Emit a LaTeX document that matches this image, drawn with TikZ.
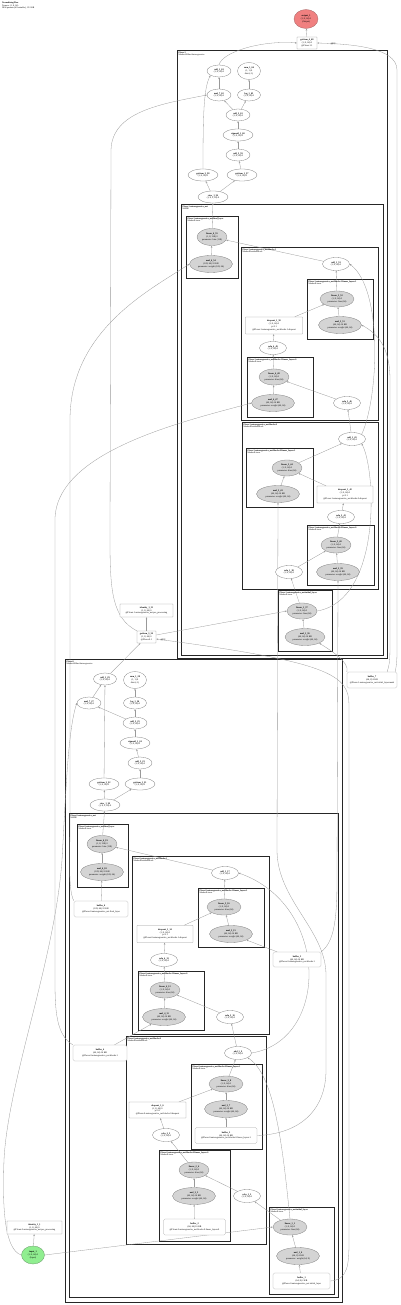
\documentclass[tikz,border=0pt]{standalone}
\usepackage{fontspec}
\setmainfont{Liberation Serif}
\usepackage{tikz}
\usetikzlibrary{arrows.meta,positioning,shapes.geometric,backgrounds}
\definecolor{outred}{RGB}{240,128,128}
\definecolor{ingreen}{RGB}{144,238,144}

\begin{document}
\begin{tikzpicture}[x=1pt,y=-1pt,>={Stealth[length=2pt,width=1.6pt]},
    lbl/.style={font=\fontsize{2.3}{2.8}\selectfont,align=center,inner sep=0.3pt},
    fn/.style={lbl,ellipse,draw=black!50,line width=0.3pt,fill=white,minimum height=12},
    parm/.style={fn,fill=black!17},
    mod/.style={lbl,rectangle,rounded corners=0.3pt,draw=black!40,line width=0.3pt,fill=white},
    buf/.style={mod,rounded corners=1.5pt,draw=black!35},
    grp/.style={draw=black!85,line width=0.7pt},
    glab/.style={font=\fontsize{2.2}{2.6}\selectfont,align=left,anchor=north west,inner sep=0.4pt},
    conn/.style={->,draw=black!40,line width=0.3pt}]
    \useasboundingbox (0,0) rectangle (400,1305);
    \node[glab] (title) at (1.5,1.5) {\textbf{NormalizingFlow}\\Tensors: (1, 8, 64)\\3804 params (all trainable), 15.2 KB};

    % upper flow
    \node[fn,minimum width=24,minimum height=19,fill=outred,draw=red!40!black!60] (outTensor) at (306,19) {\textbf{output\_1}\\(1, 8, 64) 0\\(Output)};
    \node[mod,minimum width=20,minimum height=12] (uOut) at (307,43) {\textbf{getitem\_4\_48}\\(1, 8, 64) 0\\@Flows.1.1};
    \node[lbl] (uOutTag) at (333,44) {@[0]};
    \node[glab] (labA) at (178,51) {\textbf{Flows.1}\\MaskedAffineAutoregressive};
    \node[fn,minimum width=24] (uAdd1) at (219,71) {\textbf{add\_1\_63}\\(1, 8, 64) 0};
    \node[fn,minimum width=23,minimum height=17] (uSum1) at (249,71) {\textbf{sum\_1\_66}\\(1, 1) 0\\dim=(-1)};
    \node[fn,minimum width=24] (uMul7) at (219,95) {\textbf{mul\_7\_62}\\(1, 8, 64) 0};
    \node[fn,minimum width=23] (uLog1) at (249,95) {\textbf{log\_1\_65}\\(1, 8, 64) 0};
    \node[fn,minimum width=24] (uAdd2) at (238,115) {\textbf{add\_2\_61}\\(1, 8, 64) 0};
    \node[fn,minimum width=30] (uSig) at (238,135) {\textbf{sigmoid\_1\_60}\\(1, 8, 64) 0};
    \node[fn,minimum width=24] (uAdd3) at (238,155) {\textbf{add\_3\_59}\\(1, 8, 64) 0};
    \node[fn,minimum width=30] (uGet2) at (203,175) {\textbf{getitem\_2\_58}\\(1, 8, 64) 0};
    \node[fn,minimum width=30] (uGet1) at (242,175) {\textbf{getitem\_1\_57}\\(1, 8, 64) 0};
    \node[fn,minimum width=30] (uView) at (213,197) {\textbf{view\_1\_56}\\(1, 8, 2, 64) 0};
    \node[glab] (labB) at (182,205) {\textbf{Flows.1.autoregressive\_net}\\MADE};
    \node[glab] (labC) at (187,217) {\textbf{Flows.1.autoregressive\_net.final\_layer}\\MaskedLinear};
    \node[parm,minimum width=30,minimum height=17] (uFinLin) at (212,237) {\textbf{linear\_6\_55}\\(1, 8, 128) 0\\parameter: bias (128)};
    \node[parm,minimum width=43,minimum height=17] (uFinMul) at (211,264) {\textbf{mul\_6\_54}\\(128, 64) 32 KB\\parameter: weight (128, 64)};
    \node[glab] (labD) at (242,248) {\textbf{Flows.1.autoregressive\_net.blocks.1}\\MaskedResidualBlock};
    \node[fn,minimum width=27,minimum height=13] (uB1Add) at (336,264) {\textbf{add\_1\_53}\\(1, 8, 64) 0};
    \node[glab] (labE) at (308,280) {\textbf{Flows.1.autoregressive\_net.blocks.1.linear\_layers.1}\\MaskedLinear};
    \node[parm,minimum width=34,minimum height=16] (uB1Lin1) at (337,299) {\textbf{linear\_5\_52}\\(1, 8, 64) 0\\parameter: bias (64)};
    \node[parm,minimum width=43,minimum height=17] (uB1Mul1) at (340,325) {\textbf{mul\_5\_51}\\(64, 64) 16 KB\\parameter: weight (64, 64)};
    \node[mod,minimum width=57,minimum height=17] (uB1Drop) at (274,325.5) {\textbf{dropout\_1\_50}\\(1, 8, 64) 0\\p=0.1\\@Flows.1.autoregressive\_net.blocks.1.dropout};
    \node[fn,minimum width=27,minimum height=13] (uB1Relu) at (273,348) {\textbf{relu\_4\_49}\\(1, 8, 64) 0};
    \node[glab] (labF) at (248,358) {\textbf{Flows.1.autoregressive\_net.blocks.1.linear\_layers.0}\\MaskedLinear};
    \node[parm,minimum width=30,minimum height=16] (uB1Lin0) at (274,377) {\textbf{linear\_4\_48}\\(1, 8, 64) 0\\parameter: bias (64)};
    \node[parm,minimum width=43,minimum height=17] (uB1Mul0) at (273,403) {\textbf{mul\_4\_47}\\(64, 64) 16 KB\\parameter: weight (64, 64)};
    \node[fn,minimum width=27,minimum height=13] (uB1Relu0) at (347,403) {\textbf{relu\_3\_46}\\(1, 8, 64) 0};
    \node[glab] (labG) at (243,423) {\textbf{Flows.1.autoregressive\_net.blocks.0}\\MaskedResidualBlock};
    \node[fn,minimum width=27,minimum height=13] (uB0Add) at (352,439) {\textbf{add\_1\_45}\\(1, 8, 64) 0};
    \node[glab] (labH) at (247,449) {\textbf{Flows.1.autoregressive\_net.blocks.0.linear\_layers.1}\\MaskedLinear};
    \node[parm,minimum width=30,minimum height=16] (uB0Lin1) at (287,468) {\textbf{linear\_3\_44}\\(1, 8, 64) 0\\parameter: bias (64)};
    \node[parm,minimum width=43,minimum height=17] (uB0Mul1) at (278,494) {\textbf{mul\_3\_43}\\(64, 64) 16 KB\\parameter: weight (64, 64)};
    \node[mod,minimum width=56,minimum height=17] (uB0Drop) at (345,494.5) {\textbf{dropout\_1\_42}\\(1, 8, 64) 0\\p=0.1\\@Flows.1.autoregressive\_net.blocks.0.dropout};
    \node[fn,minimum width=27,minimum height=13] (uB0Relu) at (341,517) {\textbf{relu\_2\_41}\\(1, 8, 64) 0};
    \node[glab] (labI) at (308,526) {\textbf{Flows.1.autoregressive\_net.blocks.0.linear\_layers.0}\\MaskedLinear};
    \node[parm,minimum width=30,minimum height=16] (uB0Lin0) at (336,545) {\textbf{linear\_2\_40}\\(1, 8, 64) 0\\parameter: bias (64)};
    \node[parm,minimum width=43,minimum height=17] (uB0Mul0) at (338,572) {\textbf{mul\_2\_39}\\(64, 64) 16 KB\\parameter: weight (64, 64)};
    \node[fn,minimum width=27,minimum height=13] (uB0Relu0) at (289,572) {\textbf{relu\_1\_38}\\(1, 8, 64) 0};
    \node[glab] (labJ) at (279,591) {\textbf{Flows.1.autoregressive\_net.initial\_layer}\\MaskedLinear};
    \node[parm,minimum width=30,minimum height=16] (uInLin) at (302,611) {\textbf{linear\_1\_37}\\(1, 8, 64) 0\\parameter: bias (64)};
    \node[parm,minimum width=40,minimum height=17] (uInMul) at (305,637) {\textbf{mul\_1\_36}\\(64, 64) 16 KB\\parameter: weight (64, 64)};

    % between the flows
    \node[mod,minimum width=53,minimum height=13] (idMid) at (146.5,610.5) {\textbf{identity\_1\_31}\\(1, 8, 64) 0\\@Flows.1.autoregressive\_net.pre\_processing};
    \node[mod,minimum width=19,minimum height=12] (lGetOut) at (146.5,637) {\textbf{getitem\_3\_30}\\(1, 8, 64) 0\\@Flows.0.1};
    \node[lbl] (lGetTag) at (163,639.5) {@[0]};
    \node[buf,minimum width=50,minimum height=16] (buf7) at (372,680) {\textbf{buffer\_7}\\(64, 8) 2 KB\\@Flows.1.autoregressive\_net.initial\_layer.mask};

    % lower flow
    \node[glab] (labK) at (66,660) {\textbf{Flows.0}\\MaskedAffineAutoregressive};
    \node[fn,minimum width=23] (lAdd1) at (105,679) {\textbf{add\_1\_29}\\(1, 8, 64) 0};
    \node[fn,minimum width=23,minimum height=17] (lSum1) at (135,680) {\textbf{sum\_1\_28}\\(1, 1) 0\\dim=(-1)};
    \node[fn,minimum width=24] (lMul7) at (89,703) {\textbf{mul\_7\_27}\\(1, 8, 64) 0};
    \node[fn,minimum width=23] (lLog1) at (135,703) {\textbf{log\_1\_26}\\(1, 8, 64) 0};
    \node[fn,minimum width=24] (lAdd2) at (135,723) {\textbf{add\_2\_25}\\(1, 8, 64) 0};
    \node[fn,minimum width=30] (lSig) at (135,743) {\textbf{sigmoid\_1\_24}\\(1, 8, 64) 0};
    \node[fn,minimum width=24] (lAdd3) at (140,763) {\textbf{add\_3\_23}\\(1, 8, 64) 0};
    \node[fn,minimum width=30] (lGet2) at (104,784) {\textbf{getitem\_2\_22}\\(1, 8, 64) 0};
    \node[fn,minimum width=30] (lGet1) at (140,784) {\textbf{getitem\_1\_21}\\(1, 8, 64) 0};
    \node[fn,minimum width=30] (lView) at (105,805) {\textbf{view\_1\_20}\\(1, 8, 2, 64) 0};
    \node[glab] (labL) at (70,814) {\textbf{Flows.0.autoregressive\_net}\\MADE};
    \node[glab] (labM) at (78,825) {\textbf{Flows.0.autoregressive\_net.final\_layer}\\MaskedLinear};
    \node[parm,minimum width=30,minimum height=17] (lFinLin) at (102,844) {\textbf{linear\_6\_19}\\(1, 8, 128) 0\\parameter: bias (128)};
    \node[parm,minimum width=43,minimum height=17] (lFinMul) at (102,872) {\textbf{mul\_6\_18}\\(128, 64) 32 KB\\parameter: weight (128, 64)};
    \node[buf,minimum width=54,minimum height=16] (buf6) at (101,909) {\textbf{buffer\_6}\\(128, 64) 32 KB\\@Flows.0.autoregressive\_net.final\_layer};
    \node[glab] (labN) at (133,857) {\textbf{Flows.0.autoregressive\_net.blocks.1}\\MaskedResidualBlock};
    \node[fn,minimum width=27,minimum height=13] (lB1Add) at (225,873) {\textbf{add\_1\_17}\\(1, 8, 64) 0};
    \node[glab] (labO) at (199,889) {\textbf{Flows.0.autoregressive\_net.blocks.1.linear\_layers.1}\\MaskedLinear};
    \node[parm,minimum width=34,minimum height=16] (lB1Lin1) at (224,907) {\textbf{linear\_5\_16}\\(1, 8, 64) 0\\parameter: bias (64)};
    \node[parm,minimum width=43,minimum height=17] (lB1Mul1) at (231,934) {\textbf{mul\_5\_15}\\(64, 64) 16 KB\\parameter: weight (64, 64)};
    \node[mod,minimum width=56,minimum height=17] (lB1Drop) at (165,934) {\textbf{dropout\_1\_14}\\(1, 8, 64) 0\\p=0.1\\@Flows.0.autoregressive\_net.blocks.1.dropout};
    \node[fn,minimum width=27,minimum height=13] (lB1Relu) at (164,960) {\textbf{relu\_4\_13}\\(1, 8, 64) 0};
    \node[glab] (labP) at (139,972) {\textbf{Flows.0.autoregressive\_net.blocks.1.linear\_layers.0}\\MaskedLinear};
    \node[parm,minimum width=30,minimum height=16] (lB1Lin0) at (165,990) {\textbf{linear\_4\_12}\\(1, 8, 64) 0\\parameter: bias (64)};
    \node[parm,minimum width=43,minimum height=17] (lB1Mul0) at (164,1017) {\textbf{mul\_4\_11}\\(64, 64) 16 KB\\parameter: weight (64, 64)};
    \node[fn,minimum width=27,minimum height=13] (lB1Relu0) at (230,1017) {\textbf{relu\_3\_10}\\(1, 8, 64) 0};
    \node[buf,minimum width=48,minimum height=15] (buf5) at (297,959.5) {\textbf{buffer\_5}\\(64, 64) 16 KB\\@Flows.0.autoregressive\_net.blocks.1};
    \node[buf,minimum width=54,minimum height=16] (buf4) at (100,1053) {\textbf{buffer\_4}\\(64, 64) 16 KB\\@Flows.0.autoregressive\_net.blocks.1};
    \node[glab] (labQ) at (127,1037) {\textbf{Flows.0.autoregressive\_net.blocks.0}\\MaskedResidualBlock};
    \node[fn,minimum width=27,minimum height=13] (lB0Add) at (238,1053) {\textbf{add\_1\_9}\\(1, 8, 64) 0};
    \node[glab] (labR) at (192,1065) {\textbf{Flows.0.autoregressive\_net.blocks.0.linear\_layers.1}\\MaskedLinear};
    \node[parm,minimum width=34,minimum height=16] (lB0Lin1) at (226,1084) {\textbf{linear\_3\_8}\\(1, 8, 64) 0\\parameter: bias (64)};
    \node[parm,minimum width=43,minimum height=17] (lB0Mul1) at (226,1109) {\textbf{mul\_3\_7}\\(64, 64) 16 KB\\parameter: weight (64, 64)};
    \node[buf,minimum width=62,minimum height=16] (buf3) at (226,1135.5) {\textbf{buffer\_3}\\(64, 64) 16 KB\\@Flows.0.autoregressive\_net.blocks.0.linear\_layers.1};
    \node[mod,minimum width=57,minimum height=16] (lB0Drop) at (157.5,1110) {\textbf{dropout\_1\_6}\\(1, 8, 64) 0\\p=0.1\\@Flows.0.autoregressive\_net.blocks.0.dropout};
    \node[fn,minimum width=27,minimum height=13] (lB0Relu) at (166,1135) {\textbf{relu\_2\_5}\\(1, 8, 64) 0};
    \node[glab] (labS) at (160,1151) {\textbf{Flows.0.autoregressive\_net.blocks.0.linear\_layers.0}\\MaskedLinear};
    \node[parm,minimum width=30,minimum height=16] (lB0Lin0) at (194,1170) {\textbf{linear\_2\_4}\\(1, 8, 64) 0\\parameter: bias (64)};
    \node[parm,minimum width=43,minimum height=17] (lB0Mul0) at (194,1196) {\textbf{mul\_2\_3}\\(64, 64) 16 KB\\parameter: weight (64, 64)};
    \node[buf,minimum width=62,minimum height=16] (buf2) at (194.5,1227) {\textbf{buffer\_2}\\(64, 64) 16 KB\\@Flows.0.autoregressive\_net.blocks.0.linear\_layers.0};
    \node[fn,minimum width=27,minimum height=13] (lB0Relu0) at (247,1196) {\textbf{relu\_1\_2}\\(1, 8, 64) 0};
    \node[glab] (labT) at (270,1208) {\textbf{Flows.0.autoregressive\_net.initial\_layer}\\MaskedLinear};
    \node[parm,minimum width=34,minimum height=16] (lInLin) at (290,1227) {\textbf{linear\_1\_1}\\(1, 8, 64) 0\\parameter: bias (64)};
    \node[parm,minimum width=43,minimum height=17] (lInMul) at (298,1256) {\textbf{mul\_1\_0}\\(64, 8) 2 KB\\parameter: weight (64, 8)};
    \node[buf,minimum width=57,minimum height=16] (buf1) at (301.5,1281) {\textbf{buffer\_1}\\(64, 8) 2 KB\\@Flows.0.autoregressive\_net.initial\_layer};
    \node[mod,minimum width=55,minimum height=13] (idLow) at (34.5,1227.5) {\textbf{identity\_1\_1}\\(1, 8, 64) 0\\@Flows.0.autoregressive\_net.pre\_processing};
    \node[fn,minimum width=23,minimum height=18,fill=ingreen,draw=green!30!black!60] (input) at (33,1255) {\textbf{input\_1}\\(1, 8, 64) 0\\(Input)};

    \begin{scope}[on background layer]
    % module boxes
    \draw[grp] (177,50) rectangle (387,658);
    \draw[grp] (181,204) rectangle (383,655);
    \draw[grp] (186,216) rectangle (238,278);
    \draw[grp] (241,247) rectangle (378,420);
    \draw[grp] (307,279) rectangle (373,339);
    \draw[grp] (247,357) rectangle (313,417);
    \draw[grp] (242,422) rectangle (378,589);
    \draw[grp] (246,448) rectangle (313,507);
    \draw[grp] (307,525) rectangle (374,585);
    \draw[grp] (278,590) rectangle (332,651);
    \draw[grp] (65,659) rectangle (342,1302);
    \draw[grp] (69,813) rectangle (338,1297);
    \draw[grp] (77,824) rectangle (128,887);
    \draw[grp] (132,856) rectangle (269,1034);
    \draw[grp] (198,888) rectangle (264,947);
    \draw[grp] (138,971) rectangle (204,1030);
    \draw[grp] (126,1036) rectangle (266,1244);
    \draw[grp] (191,1064) rectangle (262,1149);
    \draw[grp] (159,1150) rectangle (230,1241);
    \draw[grp] (269,1207) rectangle (334,1294);

    % upper flow edges
    \draw[conn] (uOut) -- (outTensor);
    \draw[conn] (uAdd1.north) .. controls (222,52) and (262,40) .. (uOut.west);
    \draw[conn] (uMul7) -- (uAdd1);
    \draw[conn] (uGet2.north) .. controls (203,110) and (204,88) .. (uAdd1.south west);
    \draw[conn] (uLog1) -- (uSum1);
    \draw[conn] (uAdd2) -- (uMul7);
    \draw[conn] (uAdd2) -- (uLog1);
    \draw[conn] (uSig) -- (uAdd2);
    \draw[conn] (uAdd3) -- (uSig);
    \draw[conn] (uGet1) -- (uAdd3);
    \draw[conn] (uView) -- (uGet2);
    \draw[conn] (uView) -- (uGet1);
    \draw[conn] (uFinLin) -- (uView);
    \draw[conn] (uFinMul) -- (uFinLin);
    \draw[conn] (uB1Add) -- (uFinLin);
    \draw[conn] (uB1Lin1) -- (uB1Add);
    \draw[conn] (uB1Mul1) -- (uB1Lin1);
    \draw[conn] (uB1Drop) -- (uB1Lin1);
    \draw[conn] (uB1Relu) -- (uB1Drop);
    \draw[conn] (uB1Lin0) -- (uB1Relu);
    \draw[conn] (uB1Mul0) -- (uB1Lin0);
    \draw[conn] (uB1Relu0) -- (uB1Lin0);
    \draw[conn] (uB0Add) -- (uB1Relu0);
    \draw[conn] (uB0Add.north east) .. controls (378,400) and (384,290) .. (uB1Add.east);
    \draw[conn] (uB0Lin1) -- (uB0Add);
    \draw[conn] (uB0Mul1) -- (uB0Lin1);
    \draw[conn] (uB0Drop) -- (uB0Lin1);
    \draw[conn] (uB0Relu) -- (uB0Drop);
    \draw[conn] (uB0Lin0) -- (uB0Relu);
    \draw[conn] (uB0Mul0) -- (uB0Lin0);
    \draw[conn] (uB0Relu0) -- (uB0Lin0);
    \draw[conn] (uInLin) -- (uB0Relu0);
    \draw[conn] (uInLin.east) .. controls (382,600) and (376,470) .. (uB0Add.south east);
    \draw[conn] (uInMul) -- (uInLin);

    % between the flows
    \draw[conn] (lGetOut) -- (idMid);
    \draw[conn] ([yshift=2pt]lGetOut.east) -- (uInLin.west);
    \draw[conn] (lGetOut.north west) .. controls (112,618) and (110,590) .. (110,540) -- (111,150) .. controls (112,112) and (160,104) .. (uMul7.west);
    \draw[conn] (buf7.north west) .. controls (350,662) and (330,650) .. (uInMul.south east);
    \draw[conn] ([xshift=-2pt]buf7.north east) .. controls (397,662) .. (397,640) -- (397,70) .. controls (397,47) and (350,44) .. (uOut.east);
    \draw[conn] ([xshift=-10pt]buf7.north east) .. controls (390,662) .. (390,630) -- (390,380) .. controls (390,345) and (376,333) .. (uB1Mul1.east);
    \draw[conn] (buf6.north west) .. controls (68,890) and (70,860) .. (70,820) -- (70,420) .. controls (70,330) and (150,290) .. (uFinMul.west);
    \draw[conn] (buf4.north west) .. controls (56,1035) and (55,1010) .. (55,980) -- (55,520) .. controls (55,450) and (190,420) .. (uB1Mul0.west);
    \draw[conn] (buf5.north east) .. controls (334,942) and (337,920) .. (337,880) -- (uB0Mul0.south);
    \draw[conn] (buf3.east) .. controls (300,1134) and (326,1110) .. (326,1070) -- (326,975) .. controls (326,930) and (277,900) .. (277,850) -- (uB0Mul1.south);
    \draw[conn] (buf1.east) .. controls (348,1280) and (349,1265) .. (349,1240) -- (349,705) .. controls (349,675) and (330,662) .. ([yshift=-2pt]lGetOut.east);

    % lower flow edges
    \draw[conn] (lAdd1) -- (lGetOut);
    \draw[conn] (lMul7) -- (lAdd1);
    \draw[conn] (lGet2) -- (lAdd1);
    \draw[conn] (lLog1) -- (lSum1);
    \draw[conn] (lAdd2) -- (lMul7);
    \draw[conn] (lAdd2) -- (lLog1);
    \draw[conn] (lSig) -- (lAdd2);
    \draw[conn] (lAdd3) -- (lSig);
    \draw[conn] (lGet1) -- (lAdd3);
    \draw[conn] (lView) -- (lGet2);
    \draw[conn] (lView) -- (lGet1);
    \draw[conn] (lFinLin) -- (lView);
    \draw[conn] (lFinMul) -- (lFinLin);
    \draw[conn] (buf6) -- (lFinMul);
    \draw[conn] (lB1Add) -- (lFinLin);
    \draw[conn] (lB1Lin1) -- (lB1Add);
    \draw[conn] (lB1Mul1) -- (lB1Lin1);
    \draw[conn] (buf5) -- (lB1Mul1);
    \draw[conn] (lB1Drop) -- (lB1Lin1);
    \draw[conn] (lB1Relu) -- (lB1Drop);
    \draw[conn] (lB1Lin0) -- (lB1Relu);
    \draw[conn] (lB1Mul0) -- (lB1Lin0);
    \draw[conn] (buf4) -- (lB1Mul0);
    \draw[conn] (lB1Relu0) -- (lB1Lin0);
    \draw[conn] (lB0Add) -- (lB1Relu0);
    \draw[conn] (lB0Add.east) .. controls (330,1040) and (330,905) .. (lB1Add.east);
    \draw[conn] (lB0Lin1) -- (lB0Add);
    \draw[conn] (lB0Mul1) -- (lB0Lin1);
    \draw[conn] (buf3) -- (lB0Mul1);
    \draw[conn] (lB0Drop) -- (lB0Lin1);
    \draw[conn] (lB0Relu) -- (lB0Drop);
    \draw[conn] (lB0Lin0) -- (lB0Relu);
    \draw[conn] (lB0Mul0) -- (lB0Lin0);
    \draw[conn] (buf2) -- (lB0Mul0);
    \draw[conn] (lB0Relu0) -- (lB0Lin0);
    \draw[conn] (lInLin) -- (lB0Relu0);
    \draw[conn] (lInLin.north) .. controls (283,1150) and (275,1075) .. (lB0Add.south east);
    \draw[conn] (lInMul) -- (lInLin);
    \draw[conn] (buf1) -- (lInMul);
    \draw[conn] (input) -- (idLow);
    \draw[conn] (input.east) -- (lInLin.west);
    \draw[conn] (input.west) .. controls (5,1250) and (2,1210) .. (4,1160) .. controls (8,1080) and (55,960) .. (62,860) .. controls (66,790) and (68,730) .. (lMul7.west);
    \end{scope}
\end{tikzpicture}
\end{document}
